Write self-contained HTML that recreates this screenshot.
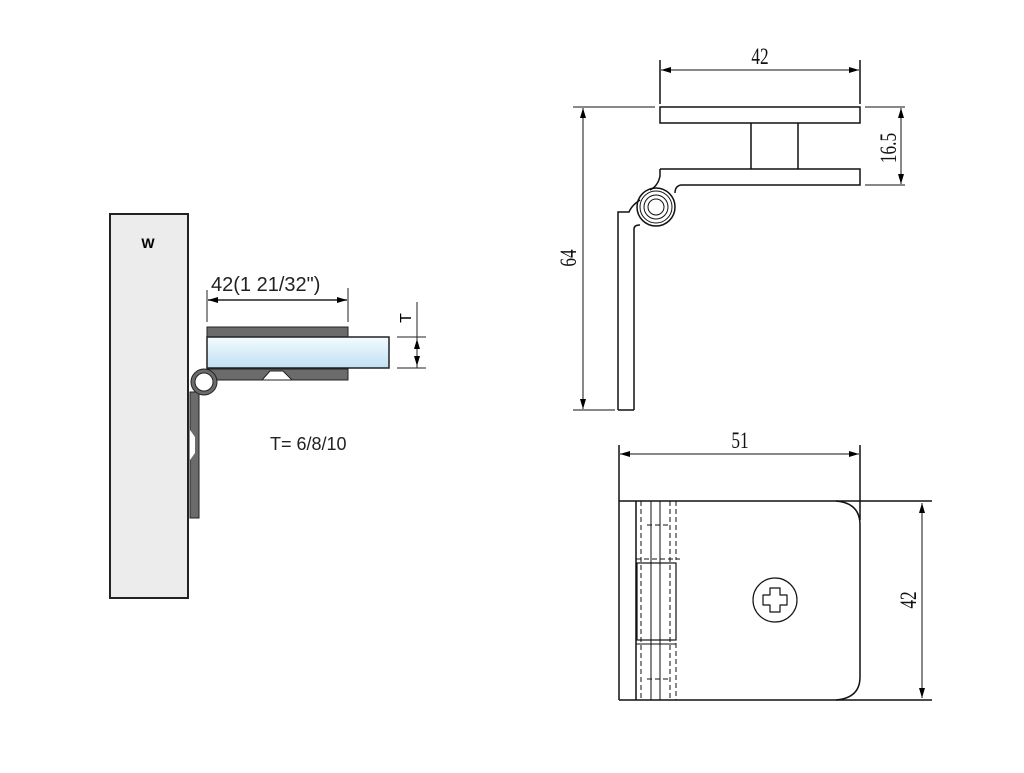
<!DOCTYPE html>
<html><head><style>html,body{margin:0;padding:0;background:#fff;}</style></head>
<body>
<svg width="1024" height="768" viewBox="0 0 1024 768" xmlns="http://www.w3.org/2000/svg">
<defs>
<linearGradient id="gl" x1="0" y1="0" x2="0" y2="1"><stop offset="0" stop-color="#f4fbff"/><stop offset="1" stop-color="#bfe0f2"/></linearGradient>
<marker id="a" markerWidth="10" markerHeight="6" refX="10" refY="3" orient="auto" markerUnits="userSpaceOnUse"><path d="M0,0 L10,3 L0,6 Z" fill="#000"/></marker>
<marker id="as" markerWidth="10" markerHeight="6" refX="0" refY="3" orient="auto" markerUnits="userSpaceOnUse"><path d="M10,0 L0,3 L10,6 Z" fill="#000"/></marker>
</defs>
<!-- LEFT FIGURE -->
<rect x="110" y="214" width="78" height="384" fill="#ececec" stroke="#222" stroke-width="2"/>
<text x="148" y="248" font-family="Liberation Sans, sans-serif" font-weight="bold" font-size="14" text-anchor="middle">W</text>
<line x1="207" y1="290" x2="207" y2="322" stroke="#222"/>
<line x1="348" y1="288" x2="348" y2="322" stroke="#222"/>
<line x1="208" y1="300" x2="347" y2="300" stroke="#222" stroke-width="1.5" marker-end="url(#a)" marker-start="url(#as)"/>
<text x="211" y="291" font-family="Liberation Sans, sans-serif" font-size="20" fill="#222">42(1 21/32")</text>
<rect x="207" y="327" width="141" height="10" fill="#6b6b6b" stroke="#222"/>
<rect x="207" y="337" width="182" height="31" fill="url(#gl)" stroke="#222" stroke-width="1.5"/>
<rect x="207" y="369" width="141" height="11" fill="#6b6b6b" stroke="#222"/>
<path d="M262,380 L270,371 L283,371 L292,380 Z" fill="#fff" stroke="#222"/>
<rect x="190" y="392" width="9" height="126" fill="#6b6b6b" stroke="#222"/>
<path d="M190,430 L195,437 L195,453 L190,460 Z" fill="#fff"/>
<circle cx="204" cy="382" r="13" fill="#6b6b6b" stroke="#222"/>
<circle cx="204" cy="382" r="9" fill="#fff" stroke="#222"/>
<line x1="417" y1="302" x2="417" y2="368" stroke="#222"/>
<line x1="397" y1="337" x2="426" y2="337" stroke="#222"/>
<line x1="397" y1="368" x2="426" y2="368" stroke="#222"/>
<line x1="417" y1="339" x2="417" y2="366" stroke="#222" marker-end="url(#a)" marker-start="url(#as)"/>
<text transform="translate(411,318) rotate(-90)" font-family="Liberation Sans, sans-serif" font-size="16" text-anchor="middle">T</text>
<text x="270" y="450" font-family="Liberation Sans, sans-serif" font-size="18" fill="#222">T= 6/8/10</text>

<!-- RIGHT TOP -->
<g fill="none" stroke="#111" stroke-width="1.5">
<line x1="660" y1="60" x2="660" y2="104"/>
<line x1="860" y1="60" x2="860" y2="104"/>
<line x1="661" y1="70" x2="859" y2="70" stroke-width="1" marker-end="url(#a)" marker-start="url(#as)"/>
<rect x="660" y="107" width="200" height="16"/>
<line x1="751" y1="123" x2="751" y2="169"/>
<line x1="798" y1="123" x2="798" y2="169"/>
<path d="M660,169 L860,169 L860,185 L681,185 Q675,186 675,193"/>
<path d="M660,169 L660,176 Q658,186 650,190"/>
<path d="M618,410 L618,212 L629,212 Q632,205 640,200"/>
<path d="M634,410 L634,229 Q634,225 640,225"/>
<line x1="618" y1="410" x2="634" y2="410"/>
<circle cx="656" cy="207" r="19"/>
<circle cx="656" cy="207" r="16" stroke-width="1"/>
<circle cx="656" cy="207" r="12" stroke-width="1"/>
<circle cx="656" cy="207" r="8" stroke-width="1"/>
<line x1="573" y1="107" x2="655" y2="107" stroke-width="1"/>
<line x1="573" y1="410" x2="615" y2="410" stroke-width="1"/>
<line x1="583" y1="108" x2="583" y2="409" stroke-width="1" marker-end="url(#a)" marker-start="url(#as)"/>
<line x1="865" y1="107" x2="905" y2="107" stroke-width="1"/>
<line x1="865" y1="185" x2="905" y2="185" stroke-width="1"/>
<line x1="901" y1="108" x2="901" y2="184" stroke-width="1" marker-end="url(#a)" marker-start="url(#as)"/>
</g>
<g font-family="Liberation Serif, serif" font-size="23" fill="#111">
<text x="760" y="64" text-anchor="middle" transform="translate(760,0) scale(0.75,1) translate(-760,0)">42</text>
<text transform="translate(576,258) rotate(-90) scale(0.75,1)" text-anchor="middle">64</text>
<text transform="translate(896,148) rotate(-90) scale(0.75,1)" text-anchor="middle">16.5</text>
<text x="740" y="448" text-anchor="middle" transform="translate(740,0) scale(0.75,1) translate(-740,0)">51</text>
<text transform="translate(916,600) rotate(-90) scale(0.75,1)" text-anchor="middle">42</text>
</g>

<!-- RIGHT BOTTOM -->
<g fill="none" stroke="#111" stroke-width="1.5">
<line x1="619" y1="445" x2="619" y2="700"/>
<line x1="860" y1="445" x2="860" y2="520"/>
<line x1="620" y1="454" x2="859" y2="454" stroke-width="1" marker-end="url(#a)" marker-start="url(#as)"/>
<line x1="619" y1="501" x2="932" y2="501"/>
<line x1="619" y1="700" x2="932" y2="700"/>
<path d="M836,501 Q860,503 860,525 L860,677 Q860,698 836,700"/>
<line x1="636" y1="501" x2="636" y2="700"/>
<line x1="651" y1="501" x2="651" y2="700" stroke-width="1"/>
<line x1="660" y1="501" x2="660" y2="700" stroke-width="1"/>
<g stroke-dasharray="5,3" stroke-width="1">
<line x1="641" y1="501" x2="641" y2="700"/>
<line x1="670" y1="501" x2="670" y2="700"/>
<line x1="676" y1="501" x2="676" y2="560"/>
<line x1="676" y1="643" x2="676" y2="700"/>
<line x1="647" y1="525" x2="670" y2="525"/>
<line x1="647" y1="679" x2="670" y2="679"/>
<line x1="636" y1="559" x2="680" y2="559"/>
</g>
<rect x="637" y="563" width="39" height="77" stroke-width="1.2"/>
<line x1="636" y1="644" x2="676" y2="644" stroke-width="1"/>
<circle cx="775" cy="600" r="22" stroke-width="1.2"/>
<path d="M770,588 h10 v7 h7 v10 h-7 v7 h-10 v-7 h-7 v-10 h7 z" stroke-width="1.2" stroke-linejoin="round"/>
<line x1="922" y1="503" x2="922" y2="698" stroke-width="1" marker-end="url(#a)" marker-start="url(#as)"/>
</g>
</svg>
</body></html>
